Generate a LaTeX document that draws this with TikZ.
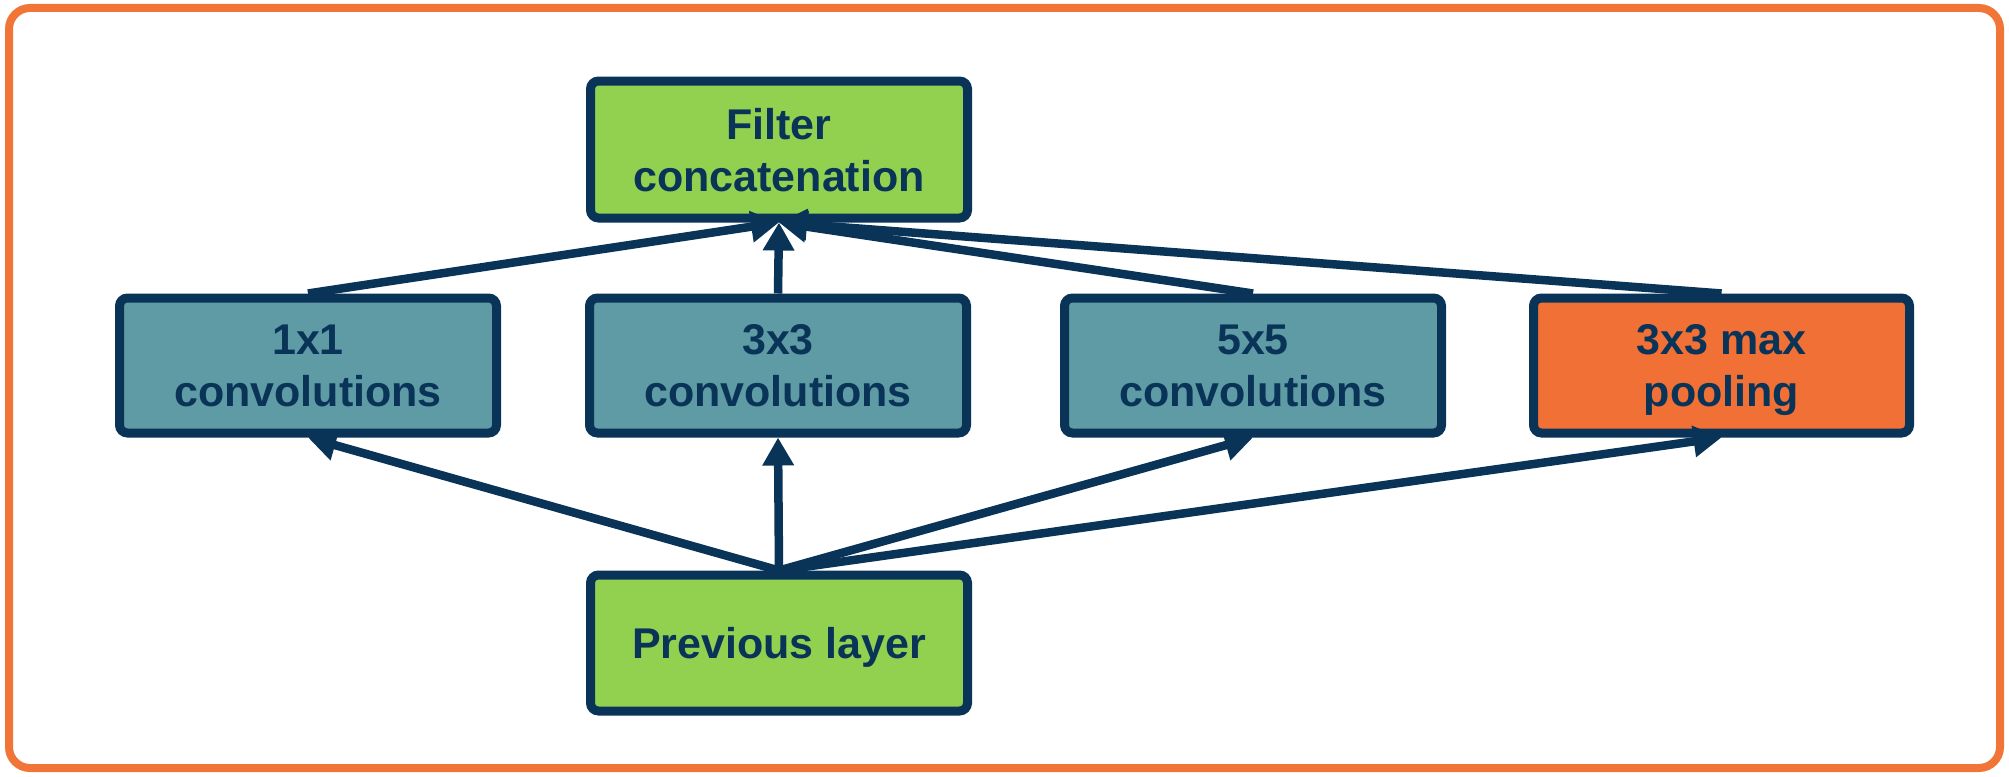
\documentclass[tikz,border=0pt]{standalone}
\usepackage{fontspec}
\setmainfont{Liberation Sans}
\usetikzlibrary{arrows.meta}
\definecolor{navy}{HTML}{093458}
\definecolor{lgreen}{HTML}{92D050}
\definecolor{teal2}{HTML}{5E9BA5}
\definecolor{orange2}{HTML}{F07036}
\definecolor{frameorange}{HTML}{F07537}
\tikzset{
  layerbox/.style={draw=navy, line width=9pt, rounded corners=8pt,
    minimum width=377pt, minimum height=135pt, inner sep=0pt,
    align=center, text=navy, text depth=0pt,
    font=\fontsize{43pt}{52pt}\selectfont\bfseries},
  greenbox/.style={layerbox, fill=lgreen},
  tealbox/.style={layerbox, fill=teal2},
  orangebox/.style={layerbox, fill=orange2},
  conn/.style={draw=navy, line width=8.5pt,
    -{Triangle[length=28pt,width=30pt]}}
}
\begin{document}
\begin{tikzpicture}[x=1pt,y=-1pt]
\useasboundingbox (0,0) rectangle (2009,776);
\draw[frameorange, line width=8pt, rounded corners=21pt, fill=white] (9,8) rectangle (2000,768);

\node[greenbox, minimum height=137pt] (filter) at (779,149.5) {Filter\\concatenation};
\node[tealbox] (c1) at (308,365.5) {1x1\\convolutions};
\node[tealbox] (c3) at (778,365.5) {3x3\\convolutions};
\node[tealbox] (c5) at (1253,365.5) {5x5\\convolutions};
\node[orangebox, minimum width=376pt] (pool) at (1721.5,365.5) {3x3 max\\pooling};
\node[greenbox, minimum height=136pt] (prev) at (779,643) {Previous layer};

\draw[conn] (prev.north) -- (c1.south);
\draw[conn] (prev.north) -- (c3.south);
\draw[conn] (prev.north) -- (c5.south);
\draw[conn] (prev.north) -- (pool.south);

\draw[conn] (c1.north) -- (filter.south);
\draw[conn] (c3.north) -- (filter.south);
\draw[conn] (c5.north) -- (filter.south);
\draw[conn] (pool.north) -- (filter.south);
\end{tikzpicture}
\end{document}
